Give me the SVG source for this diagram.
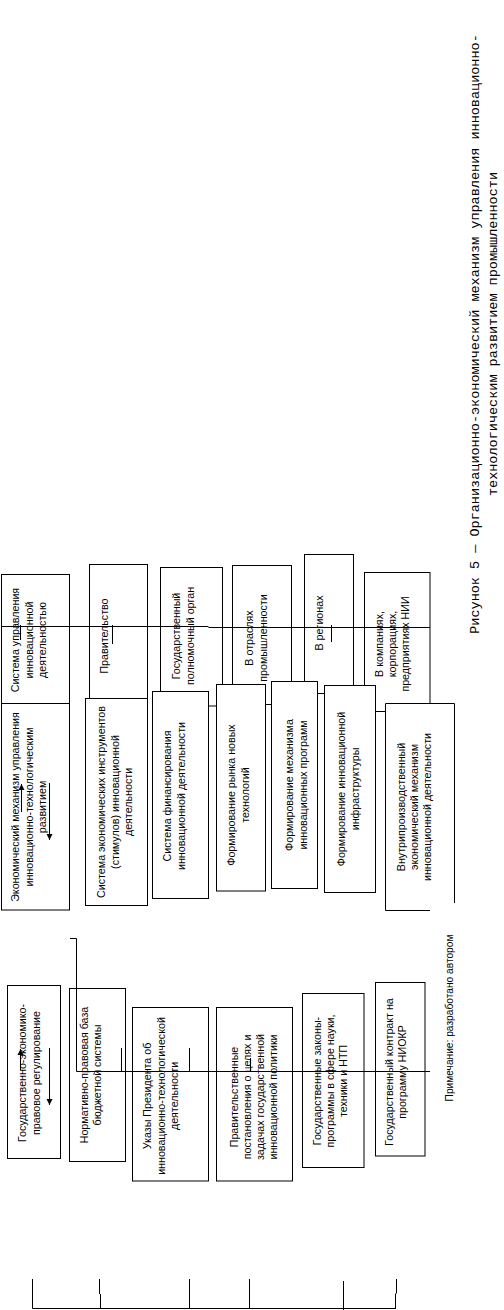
<svg xmlns="http://www.w3.org/2000/svg" width="504" height="1310" viewBox="0 0 504 1310">
<style>
.b{fill:#fff;stroke:#000;stroke-width:1}
.t{font-family:"Liberation Sans",Arial,sans-serif;font-size:10.7px;fill:#000;text-anchor:middle}
.c{font-family:"Liberation Mono","Courier New",monospace;font-size:13.5px;fill:#000;text-anchor:middle}
.l{fill:none;stroke:#000;stroke-width:1}
</style>
<defs>
<marker id="ah" viewBox="0 0 10 10" refX="10" refY="5" markerWidth="6" markerHeight="8" orient="auto" markerUnits="userSpaceOnUse">
<path d="M0,0 L10,5 L0,10 z" fill="#000"/>
</marker>
</defs>
<rect width="504" height="1310" fill="#fff"/>

<g id="n-sistema-upr"><rect class="b" x="1.5" y="574.5" width="68" height="129"/>
<text class="t" transform="translate(0,640) rotate(-90)"><tspan x="0" y="19">Система управления</tspan><tspan x="0" y="32.5">инновационной</tspan><tspan x="0" y="46">деятельностью</tspan></text></g>
<g id="n-pravitelstvo"><rect class="b" x="89.5" y="564.5" width="58" height="134"/>
<text class="t" transform="translate(0,636) rotate(-90)"><tspan x="0" y="108">Правительство</tspan></text></g>
<g id="n-gos-organ"><rect class="b" x="160.5" y="567.5" width="62" height="138.5"/>
<text class="t" transform="translate(0,636) rotate(-90)"><tspan x="0" y="180">Государственный</tspan><tspan x="0" y="193.5">полномочный орган</tspan></text></g>
<g id="n-otrasli"><rect class="b" x="232.5" y="565.5" width="59" height="139"/>
<text class="t" transform="translate(0,638) rotate(-90)"><tspan x="0" y="253">В отраслях</tspan><tspan x="0" y="266.5">промышленности</tspan></text></g>
<g id="n-regiony"><rect class="b" x="304.5" y="554.5" width="49" height="139"/>
<text class="t" transform="translate(0,623) rotate(-90)"><tspan x="0" y="323">В регионах</tspan></text></g>
<g id="n-kompanii"><rect class="b" x="364.5" y="572.5" width="65.5" height="139"/>
<text class="t" transform="translate(0,644) rotate(-90)"><tspan x="0" y="383">В компаниях,</tspan><tspan x="0" y="396">корпорациях,</tspan><tspan x="0" y="409">предприятиях НИИ</tspan></text></g>

<g id="n-ekon-mech"><rect class="b" x="1.5" y="703.5" width="68" height="206.5"/>
<text class="t" transform="translate(0,807) rotate(-90)"><tspan x="0" y="19">Экономический механизм управления</tspan><tspan x="0" y="32.5">инновационно-технологическим</tspan><tspan x="0" y="46">развитием</tspan></text></g>
<g id="n-instrumenty"><rect class="b" x="85.5" y="698.5" width="62" height="207"/>
<text class="t" transform="translate(0,802) rotate(-90)"><tspan x="0" y="105">Система экономических инструментов</tspan><tspan x="0" y="118.5">(стимулов) инновационной</tspan><tspan x="0" y="132">деятельности</tspan></text></g>
<g id="n-finansirovanie"><rect class="b" x="152.5" y="691.5" width="56" height="207"/>
<text class="t" transform="translate(0,796) rotate(-90)"><tspan x="0" y="171">Система финансирования</tspan><tspan x="0" y="184.5">инновационной деятельности</tspan></text></g>
<g id="n-rynok"><rect class="b" x="216.5" y="684.5" width="49" height="206.5"/>
<text class="t" transform="translate(0,795) rotate(-90)"><tspan x="0" y="235">Формирование рынка новых</tspan><tspan x="0" y="248.5">технологий</tspan></text></g>
<g id="n-programmy"><rect class="b" x="271.5" y="681.5" width="46" height="207"/>
<text class="t" transform="translate(0,785) rotate(-90)"><tspan x="0" y="293">Формирование механизма</tspan><tspan x="0" y="306.5">инновационных программ</tspan></text></g>
<g id="n-infrastruktura"><rect class="b" x="324.5" y="685.5" width="51" height="207"/>
<text class="t" transform="translate(0,789) rotate(-90)"><tspan x="0" y="345">Формирование инновационной</tspan><tspan x="0" y="358.5">инфраструктуры</tspan></text></g>
<g id="n-vnutri"><rect x="385.5" y="703.5" width="69" height="207" fill="#fff"/>
<path class="l" d="M430,910.5 H385.5 V703.5 H454.5 V903"/>
<text class="t" transform="translate(0,807) rotate(-90)"><tspan x="0" y="405">Внутрипроизводственный</tspan><tspan x="0" y="418">экономический механизм</tspan><tspan x="0" y="431">инновационной деятельности</tspan></text></g>

<g id="n-gos-reg"><rect class="b" x="7.5" y="985.5" width="53" height="173"/>
<text class="t" transform="translate(0,1073) rotate(-90)"><tspan x="0" y="26">Государственно-экономико-</tspan><tspan x="0" y="39.5">правовое регулирование</tspan></text></g>
<g id="n-normativ"><rect class="b" x="69.5" y="988.5" width="56" height="173"/>
<text class="t" transform="translate(0,1075) rotate(-90)"><tspan x="0" y="88">Нормативно-правовая база</tspan><tspan x="0" y="101">бюджетной системы</tspan></text></g>
<g id="n-ukazy"><rect class="b" x="132.5" y="1007.5" width="76" height="173.5"/>
<text class="t" transform="translate(0,1096) rotate(-90)"><tspan x="0" y="151">Указы Президента об</tspan><tspan x="0" y="164.5">инновационно-технологической</tspan><tspan x="0" y="178">деятельности</tspan></text></g>
<g id="n-postanovleniya"><rect class="b" x="216.5" y="1007.5" width="76" height="173.5"/>
<text class="t" transform="translate(0,1097) rotate(-90)"><tspan x="0" y="238">Правительственные</tspan><tspan x="0" y="251">постановления о целях и</tspan><tspan x="0" y="264">задачах государственной</tspan><tspan x="0" y="277">инновационной политики</tspan></text></g>
<g id="n-zakony"><rect class="b" x="302.5" y="993.5" width="61.5" height="174"/>
<text class="t" transform="translate(0,1081) rotate(-90)"><tspan x="0" y="321">Государственные законы-</tspan><tspan x="0" y="334">программы в сфере науки,</tspan><tspan x="0" y="347">техники и НТП</tspan></text></g>
<g id="n-kontrakt"><rect class="b" x="375.5" y="982.5" width="49.5" height="173.5"/>
<text class="t" transform="translate(0,1072) rotate(-90)"><tspan x="0" y="393">Государственный контракт на</tspan><tspan x="0" y="406">программу НИОКР</tspan></text></g>

<g id="connectors">
<path class="l" d="M2,626.5 H208.5 M208.5,627.5 H430"/>
<path class="l" d="M20.5,625 V640 M112.5,625 V644 M331.5,625 V642"/>
<path class="l" d="M21.5,812 V784" marker-end="url(#ah)"/>
<path class="l" d="M49.5,783 V840" marker-end="url(#ah)"/>
<path class="l" d="M70,938.5 H76.5 V1071.5 H430"/>
<path class="l" d="M121.5,1048 V1071.5 M189.5,1048 V1071.5 M250.5,1058 V1071.5"/>
<path class="l" d="M20.5,1070 V1049" marker-end="url(#ah)"/>
<path class="l" d="M49.5,1048 V1105" marker-end="url(#ah)"/>
<path class="l" d="M32.5,1308.5 H396 M32.5,1279 V1308.5 M99.5,1279 V1294 M100.5,1294 V1308.5 M189.5,1279 V1308.5 M249.5,1279 V1308.5 M343.5,1281 V1310 M396.5,1279 V1293.5 M395.5,1293.5 V1308.5"/>
</g>

<g id="note"><text class="t" style="font-size:10.2px" transform="translate(0,1018) rotate(-90)"><tspan x="0" y="453">Примечание: разработано автором</tspan></text></g>
<g id="caption"><text class="c" transform="translate(0,334) rotate(-90)"><tspan x="0" y="479">Рисунок 5 — Организационно-экономический механизм управления инновационно-</tspan><tspan x="0" y="497">технологическим развитием промышленности</tspan></text></g>
</svg>
